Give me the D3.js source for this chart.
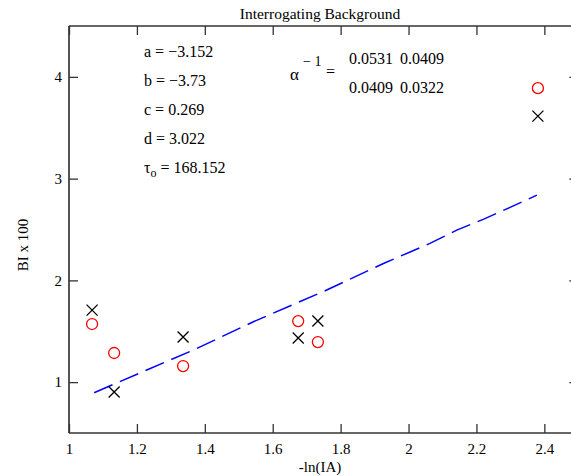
<!DOCTYPE html>
<html>
<head>
<meta charset="utf-8">
<script src="https://cdn.jsdelivr.net/npm/d3@7"></script>
<style>
html,body{margin:0;padding:0;background:#fff;}
svg{display:block;}
text{font-family:"Liberation Serif","Times New Roman",serif;fill:#000;}
</style>
</head>
<body>
<svg id="chart" width="571" height="476"></svg>
<script>
// ---- data ----
const crossX = [1.068, 1.133, 1.336, 1.675, 1.733, 2.381];
const crossY = [1.708, 0.903, 1.443, 1.433, 1.600, 3.614];
const circleX = [1.068, 1.133, 1.336, 1.675, 1.733, 2.381];
const circleY = [1.571, 1.286, 1.158, 1.600, 1.394, 3.889];
const fitX = [1.074, 1.229, 1.366, 1.543, 1.759, 1.931, 2.063, 2.142, 2.220, 2.299, 2.378];
const fitY = [0.896, 1.119, 1.315, 1.593, 1.905, 2.173, 2.363, 2.494, 2.600, 2.717, 2.838];
const xTicks = [1, 1.2, 1.4, 1.6, 1.8, 2, 2.2, 2.4];
const yTicks = [1, 2, 3, 4];
const params = ["a = \u22123.152", "b = \u22123.73", "c = 0.269", "d = 3.022"];
const tauValue = "168.152";
const matrixRows = [["0.0531", "0.0409"], ["0.0409", "0.0322"]];
const titleText = "Interrogating Background";
const xLabel = "-ln(IA)";
const yLabel = "BI x 100";

// ---- layout ----
const svg = d3.select("#chart");
const L = 69, R = 578.3, T = 26, B = 433;
const x = d3.scaleLinear().domain([1, 2.5]).range([L, R]);
const y = d3.scaleLinear().domain([0.5, 4.5]).range([B, T]);
const tickLen = 9;
const axisCol = "#333";
const tickFont = "15px";

// frame
const frame = svg.append("g");
frame.append("line").attr("x1", L).attr("x2", R).attr("y1", T).attr("y2", T).attr("stroke", axisCol).attr("stroke-width", 1.5);
frame.append("line").attr("x1", L).attr("x2", R).attr("y1", B).attr("y2", B).attr("stroke", axisCol).attr("stroke-width", 1.5);
frame.append("line").attr("x1", L).attr("x2", L).attr("y1", T).attr("y2", B).attr("stroke", "#555").attr("stroke-width", 2);
frame.append("line").attr("x1", R).attr("x2", R).attr("y1", T).attr("y2", B).attr("stroke", axisCol).attr("stroke-width", 1.5);

// bottom axis (inward ticks)
const xAxisB = d3.axisBottom(x).tickValues(xTicks).tickSize(-tickLen).tickPadding(10).tickFormat(d3.format("~g"));
const gxb = svg.append("g").attr("transform", `translate(0,${B})`).call(xAxisB);
gxb.select(".domain").remove();
gxb.selectAll("line").attr("stroke", axisCol).attr("stroke-width", 1.3);
gxb.selectAll("text").style("font-size", tickFont).style("font-family", "Liberation Serif");

// top axis ticks
const xAxisT = d3.axisTop(x).tickValues(xTicks).tickSize(-tickLen).tickFormat("");
const gxt = svg.append("g").attr("transform", `translate(0,${T})`).call(xAxisT);
gxt.select(".domain").remove();
gxt.selectAll("line").attr("stroke", axisCol).attr("stroke-width", 1.3);

// left axis
const yAxisL = d3.axisLeft(y).tickValues(yTicks).tickSize(-tickLen).tickPadding(7).tickFormat(d3.format("d"));
const gyl = svg.append("g").attr("transform", `translate(${L},0)`).call(yAxisL);
gyl.select(".domain").remove();
gyl.selectAll("line").attr("stroke", axisCol).attr("stroke-width", 1.3);
gyl.selectAll("text").style("font-size", tickFont).style("font-family", "Liberation Serif");

// right axis ticks
const yAxisR = d3.axisRight(y).tickValues(yTicks).tickSize(-tickLen).tickFormat("");
const gyr = svg.append("g").attr("transform", `translate(${R},0)`).call(yAxisR);
gyr.select(".domain").remove();
gyr.selectAll("line").attr("stroke", axisCol).attr("stroke-width", 1.3);

// title and labels
svg.append("text").attr("x", 320).attr("y", 19).attr("text-anchor", "middle").style("font-size", "15.5px").text(titleText);
svg.append("text").attr("x", 320).attr("y", 472).attr("text-anchor", "middle").style("font-size", "15px").text(xLabel);
svg.append("text").attr("transform", "translate(28,245) rotate(-90)").attr("text-anchor", "middle").style("font-size", "15px").text(yLabel);

// fit line
const line = d3.line().x((d, i) => x(fitX[i])).y((d, i) => y(fitY[i]));
svg.append("path").datum(fitX).attr("d", line).attr("fill", "none").attr("stroke", "#0000ff")
  .attr("stroke-width", 1.5).attr("stroke-dasharray", "20,8");

// circles
svg.append("g").selectAll("circle").data(circleX).join("circle")
  .attr("cx", (d) => x(d)).attr("cy", (d, i) => y(circleY[i])).attr("r", 5.5)
  .attr("fill", "none").attr("stroke", "#ff0000").attr("stroke-width", 1.3);

// crosses
const cs = 5.5;
svg.append("g").selectAll("path").data(crossX).join("path")
  .attr("d", (d, i) => {
    const cx = x(d), cy = y(crossY[i]);
    return `M${cx - cs},${cy - cs}L${cx + cs},${cy + cs}M${cx - cs},${cy + cs}L${cx + cs},${cy - cs}`;
  })
  .attr("fill", "none").attr("stroke", "#000").attr("stroke-width", 1.3);

// parameter annotations
const ann = svg.append("g").style("font-size", "16px");
params.forEach((p, i) => {
  ann.append("text").attr("x", 144).attr("y", 56.5 + i * 29.2).text(p);
});
const tau = ann.append("text").attr("x", 144).attr("y", 56.5 + 4 * 29.2);
tau.append("tspan").text("\u03c4");
tau.append("tspan").attr("dy", 4).style("font-size", "12px").text("o");
tau.append("tspan").attr("dy", -4).text(" = " + tauValue);

// matrix
const mat = svg.append("g").style("font-size", "16px");
mat.append("text").attr("x", 290).attr("y", 80).style("font-size", "17px").text("\u03b1");
mat.append("text").attr("x", 303).attr("y", 66).style("font-size", "14px").text("\u2212 1");
mat.append("text").attr("x", 326).attr("y", 77).text("=");
matrixRows.forEach((row, r) => {
  row.forEach((v, c) => {
    mat.append("text").attr("x", 349 + c * 51).attr("y", 64 + r * 28.5).text(v);
  });
});
</script>
</body>
</html>
